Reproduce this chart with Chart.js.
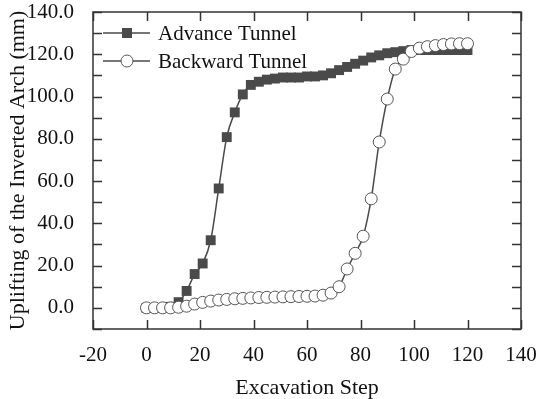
<!DOCTYPE html>
<html>
<head>
    <meta charset="UTF-8">
    <title>Uplifting of the Inverted Arch</title>
    <script src="https://cdn.jsdelivr.net/npm/chart.js@4.4.0/dist/chart.umd.min.js"></script>
    <style>
        html, body { margin: 0; padding: 0; background: #fff; }
        #wrap { width: 539px; height: 399px; }
    </style>
</head>
<body>
    <div id="wrap"><canvas id="myChart" width="539" height="399"></canvas></div>

    <script>
        // excavation steps (both tunnels share them)
        const steps = [0, 3, 6, 9, 12, 15, 18, 21, 24, 27, 30, 33, 36, 39, 42, 45, 48, 51, 54, 57, 60,
                       63, 66, 69, 72, 75, 78, 81, 84, 87, 90, 93, 96, 99, 102, 105, 108, 111, 114, 117, 120];

        const advanceTunnel = [0, 0, 0, 0.5, 2.7, 8, 16, 21, 32, 56.5, 80.8, 92.5, 101, 105.5, 107, 108, 108.5, 109, 109, 109, 109.5,
                               109.5, 110, 111, 112.5, 114, 115.5, 117, 118.5, 119.5, 120.5, 121, 121.5, 122, 122, 122, 122, 122, 122, 122, 122];

        const backwardTunnel = [0, 0, 0, 0, 0.3, 0.8, 1.8, 2.6, 3.2, 3.7, 4.0, 4.3, 4.5, 4.7, 4.9, 5.0, 5.1, 5.2, 5.3, 5.4, 5.5,
                                5.6, 6.0, 7.0, 10.0, 18.4, 25.8, 33.9, 51.6, 78.5, 98.8, 113, 117.7, 121.3, 122.9, 123.6, 124.1, 124.6, 124.9, 125, 125];

        const xTicks = [-20, 0, 20, 40, 60, 80, 100, 120, 140];

        const FONT = "'Liberation Serif', 'Times New Roman', serif";
        const INK = '#111';
        const GREY = '#4a4a4a';

        function toPoints(xs, ys) {
            return xs.map((x, i) => ({ x: x, y: ys[i] }));
        }

        // box round the plot, inward ticks on all four sides, and the legend
        const framePlugin = {
            id: 'frame',
            afterDraw(chart) {
                const ctx = chart.ctx;
                const a = chart.chartArea;
                const xs = chart.scales.x;
                const ys = chart.scales.y;
                const tl = 9;
                ctx.save();
                ctx.strokeStyle = '#333';
                ctx.lineWidth = 1.5;
                ctx.strokeRect(a.left, a.top, a.right - a.left, a.bottom - a.top);
                ctx.beginPath();
                xTicks.forEach(v => {
                    const px = Math.round(xs.getPixelForValue(v)) + 0.5;
                    ctx.moveTo(px, a.bottom); ctx.lineTo(px, a.bottom - tl);
                    ctx.moveTo(px, a.top); ctx.lineTo(px, a.top + tl);
                });
                ys.ticks.forEach(t => {
                    const py = Math.round(ys.getPixelForValue(t.value)) + 0.5;
                    ctx.moveTo(a.left, py); ctx.lineTo(a.left + tl, py);
                    ctx.moveTo(a.right, py); ctx.lineTo(a.right - tl, py);
                });
                ctx.stroke();

                // legend
                const rows = [
                    { label: 'Advance Tunnel', style: 'rect', y: a.top + 21 },
                    { label: 'Backward Tunnel', style: 'circle', y: a.top + 49 }
                ];
                rows.forEach(r => {
                    ctx.strokeStyle = GREY;
                    ctx.lineWidth = 1.5;
                    ctx.beginPath();
                    ctx.moveTo(a.left + 10, r.y);
                    ctx.lineTo(a.left + 57, r.y);
                    ctx.stroke();
                    const cx = a.left + 34;
                    if (r.style === 'rect') {
                        ctx.fillStyle = GREY;
                        ctx.fillRect(cx - 5, r.y - 5, 10, 10);
                    } else {
                        ctx.fillStyle = '#fff';
                        ctx.strokeStyle = '#555';
                        ctx.lineWidth = 1;
                        ctx.beginPath();
                        ctx.arc(cx, r.y, 6, 0, Math.PI * 2);
                        ctx.fill();
                        ctx.stroke();
                    }
                    ctx.fillStyle = INK;
                    ctx.font = '21px ' + FONT;
                    ctx.textAlign = 'left';
                    ctx.textBaseline = 'middle';
                    ctx.fillText(r.label, a.left + 65, r.y + 1);
                });
                ctx.restore();
            }
        };

        const ctx = document.getElementById('myChart').getContext('2d');
        const myChart = new Chart(ctx, {
            type: 'line',
            data: {
                datasets: [{
                    label: 'Advance Tunnel',
                    data: toPoints(steps, advanceTunnel),
                    borderColor: GREY,
                    backgroundColor: GREY,
                    borderWidth: 1.5,
                    pointStyle: 'rect',
                    pointRadius: 7,
                    pointBorderWidth: 0,
                    pointBackgroundColor: GREY,
                    cubicInterpolationMode: 'monotone',
                    order: 1
                }, {
                    label: 'Backward Tunnel',
                    data: toPoints(steps, backwardTunnel),
                    borderColor: GREY,
                    backgroundColor: '#fff',
                    borderWidth: 1.5,
                    pointStyle: 'circle',
                    pointRadius: 6,
                    pointBorderWidth: 1,
                    pointBorderColor: '#555',
                    pointBackgroundColor: '#fff',
                    cubicInterpolationMode: 'monotone',
                    order: 0
                }]
            },
            options: {
                responsive: false,
                animation: false,
                clip: false,
                layout: { padding: { left: 0, right: 18, top: 12, bottom: 0 } },
                plugins: {
                    legend: { display: false },
                    tooltip: { enabled: false }
                },
                scales: {
                    x: {
                        type: 'linear',
                        min: -20,
                        max: 140,
                        afterBuildTicks: scale => { scale.ticks = xTicks.map(v => ({ value: v })); },
                        afterFit: scale => {
                            scale.height = 70;
                            scale.paddingLeft = 0;
                            scale.paddingRight = 0;
                        },
                        grid: { display: false },
                        border: { display: false },
                        ticks: {
                            color: INK,
                            font: { family: FONT, size: 21 },
                            padding: 6,
                            maxRotation: 0,
                            autoSkip: false
                        },
                        title: {
                            display: true,
                            text: 'Excavation Step',
                            color: INK,
                            font: { family: FONT, size: 22, lineHeight: 1 },
                            padding: { top: 0, bottom: 0 }
                        }
                    },
                    y: {
                        min: -10,
                        max: 140,
                        afterFit: scale => {
                            scale.width = 93;
                            scale.paddingTop = 0;
                            scale.paddingBottom = 0;
                        },
                        grid: { display: false },
                        border: { display: false },
                        ticks: {
                            stepSize: 10,
                            color: INK,
                            font: { family: FONT, size: 21 },
                            padding: 11,
                            autoSkip: false,
                            callback: v => (v % 20 === 0 ? v.toFixed(1) : '')
                        },
                        title: {
                            display: true,
                            text: 'Uplifting of the Inverted Arch (mm)',
                            color: INK,
                            font: { family: FONT, size: 22 },
                            padding: { top: 5, bottom: 0 }
                        }
                    }
                }
            },
            plugins: [framePlugin]
        });
    </script>
</body>
</html>
